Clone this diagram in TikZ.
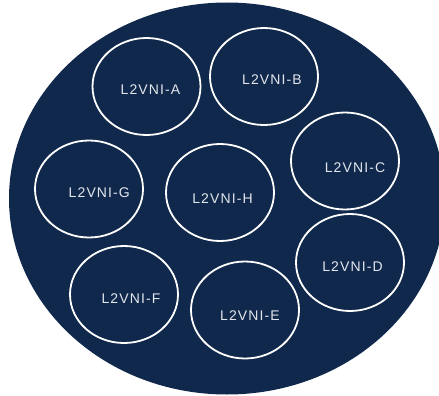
\documentclass[tikz,border=0pt]{standalone}
\usepackage{fontspec}
\setmainfont{Liberation Sans}
\usepackage{tikz}
\usetikzlibrary{shapes.geometric}
\definecolor{navy}{HTML}{10284C}
\definecolor{labelgray}{HTML}{E2E6EC}
\tikzset{
  vni/.style={ellipse,draw=white,line width=1.8pt,minimum width=108pt,minimum height=97pt,inner sep=0pt},
  vnilabel/.style={text=labelgray,inner sep=0pt,font=\fontsize{14}{16}\selectfont\addfontfeature{LetterSpace=8}}}

\begin{document}
\begin{tikzpicture}[x=1pt,y=-1pt]
	\useasboundingbox (0,0) rectangle (439,396);
	\clip (0,0) rectangle (439,396);
	% fabric
	\fill[navy] (227,198.5) ellipse [x radius=218, y radius=196];
	% segments
	\node[vni] (a) at (146.5,86.5) {};
	\node[vni] (b) at (264,76.5) {};
	\node[vni] (c) at (345,161) {};
	\node[vni] (d) at (350,262.5) {};
	\node[vni] (e) at (245,310) {};
	\node[vni] (f) at (124,294.5) {};
	\node[vni] (g) at (89,189) {};
	\node[vni] (h) at (220,192.5) {};
	\node[vnilabel] (a-t) at (150.5,90) {L2VNI-A};
	\node[vnilabel] (b-t) at (272,80) {L2VNI-B};
	\node[vnilabel] (c-t) at (355,167.5) {L2VNI-C};
	\node[vnilabel] (d-t) at (352.5,266.7) {L2VNI-D};
	\node[vnilabel] (e-t) at (250,315.5) {L2VNI-E};
	\node[vnilabel] (f-t) at (131,298.3) {L2VNI-F};
	\node[vnilabel] (g-t) at (99.3,193) {L2VNI-G};
	\node[vnilabel] (h-t) at (222.5,199) {L2VNI-H};
\end{tikzpicture}
\end{document}
